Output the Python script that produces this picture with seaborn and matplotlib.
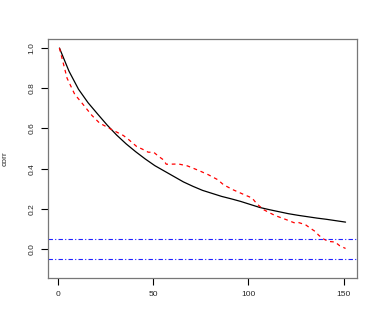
import matplotlib
matplotlib.use("Agg")
import matplotlib.pyplot as plt
import seaborn as sns
import pandas as pd

# model correlation (solid black), sampled every 5 lags
model_lag = [1, 6, 11, 16, 21, 26, 31, 36, 41, 46, 51, 56, 61, 66, 71, 76,
             81, 86, 91, 96, 101, 106, 111, 116, 121, 126, 131, 136, 141, 146, 151]
model_corr = [1.00, 0.885, 0.795, 0.728, 0.672, 0.617, 0.567, 0.523, 0.484,
              0.448, 0.415, 0.388, 0.361, 0.334, 0.312, 0.292, 0.277, 0.262,
              0.25, 0.237, 0.222, 0.207, 0.196, 0.186, 0.176, 0.168, 0.161,
              0.154, 0.148, 0.141, 0.134]

# empirical correlation (dashed red)
emp_lag = [1, 5, 9, 13, 18, 22, 28.5, 34.5, 37, 41.5, 44.5, 47.5, 50.5, 53,
           55.5, 57, 63.5, 68, 74, 79, 84, 87, 92, 98, 102, 104.5, 108, 111.5,
           114, 120, 124, 126, 130, 132.5, 135, 137, 139.5, 142, 145.5, 148, 151]
emp_corr = [1.00, 0.85, 0.77, 0.724, 0.665, 0.627, 0.594, 0.565, 0.547, 0.51,
            0.497, 0.482, 0.481, 0.461, 0.444, 0.422, 0.423, 0.414, 0.391,
            0.37, 0.345, 0.32, 0.295, 0.27, 0.254, 0.225, 0.196, 0.179, 0.167,
            0.146, 0.131, 0.133, 0.121, 0.104, 0.088, 0.068, 0.05, 0.038,
            0.035, 0.016, 0.003]

# confidence bounds
bounds = [0.05, -0.05]

sns.set_theme(style="white")
plt.rcParams['font.family'] = ['Liberation Sans', 'DejaVu Sans']

fig = plt.figure(figsize=(3.82, 3.27), dpi=100)
ax = fig.add_axes([48 / 382, 49 / 327, 309 / 382, 239 / 327])

model = pd.DataFrame({'lag': model_lag, 'corr': model_corr})
emp = pd.DataFrame({'lag': emp_lag, 'corr': emp_corr})

sns.lineplot(data=model, x='lag', y='corr', color='black', lw=0.9, ax=ax)
sns.lineplot(data=emp, x='lag', y='corr', color='red', lw=0.9,
             linestyle=(0, (3, 3)), ax=ax)
for b in bounds:
    ax.axhline(b, color='#2020ff', lw=0.8, linestyle=(0, (4, 2, 1, 2)))

ax.set_xlim(-5, 157)
ax.set_ylim(-0.144, 1.045)
ax.set_xticks([0, 50, 100, 150])
ax.set_yticks([0.0, 0.2, 0.4, 0.6, 0.8, 1.0])
ax.set_yticklabels(['0.0', '0.2', '0.4', '0.6', '0.8', '1.0'],
                   rotation=90, va='center')
ax.set_xlabel('')
ax.set_ylabel('corr', fontsize=6, labelpad=14)

ax.tick_params(axis='both', direction='out', length=5, width=0.8,
               color='black', labelsize=6, pad=4,
               bottom=True, left=True)
for s in ax.spines.values():
    s.set_color('#777777')
    s.set_linewidth(0.9)

plt.savefig('out.png', dpi=100)
plt.close()
